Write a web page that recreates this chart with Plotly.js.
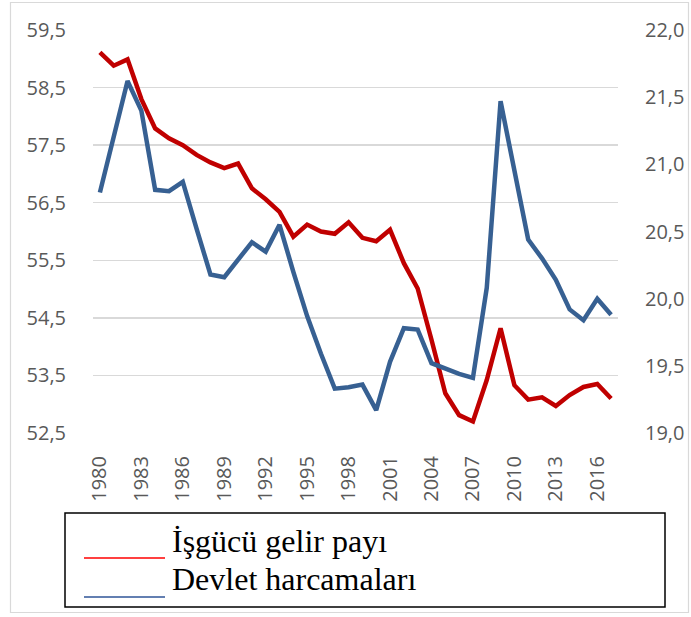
<!DOCTYPE html>
<html>
<head>
<meta charset="utf-8">
<script src="https://cdn.plot.ly/plotly-3.0.1.min.js"></script>
<style>html,body{margin:0;padding:0;background:#fff;}#chart{width:691px;height:617px;}</style>
</head>
<body>
<div id="chart"></div>
<script>
const years = [1980,1981,1982,1983,1984,1985,1986,1987,1988,1989,1990,1991,1992,1993,1994,1995,1996,1997,1998,1999,
               2000,2001,2002,2003,2004,2005,2006,2007,2008,2009,2010,2011,2012,2013,2014,2015,2016,2017];
const laborShare = [59.11,58.88,58.99,58.30,57.79,57.62,57.50,57.33,57.20,57.10,57.18,56.75,56.56,56.34,55.91,56.12,56.00,55.96,56.16,55.89,
                    55.83,56.03,55.45,55.01,54.12,53.19,52.81,52.70,53.42,54.32,53.33,53.08,53.12,52.97,53.16,53.30,53.35,53.10];
const govSpending = [20.79,21.20,21.62,21.40,20.81,20.80,20.87,20.52,20.18,20.16,20.29,20.42,20.35,20.55,20.20,19.87,19.59,19.33,19.34,19.36,
                     19.17,19.53,19.78,19.77,19.52,19.48,19.44,19.41,20.08,21.47,20.95,20.44,20.30,20.14,19.92,19.84,20.00,19.88];
const xTicks = [1980,1983,1986,1989,1992,1995,1998,2001,2004,2007,2010,2013,2016];
const leftTicks = [52.5,53.5,54.5,55.5,56.5,57.5,58.5,59.5];
const rightTicks = [19.0,19.5,20.0,20.5,21.0,21.5,22.0];
const seriesNames = ["İşgücü gelir payı", "Devlet harcamaları"];

const tickFont = {family: "Open Sans, Liberation Sans, sans-serif", size: 20, color: "#595959"};
const legendFont = {family: "Liberation Serif, Times New Roman, serif", size: 32, color: "#000000"};

const traces = [
  {x: years, y: laborShare, type: "scatter", mode: "lines", name: seriesNames[0],
   line: {color: "#C00000", width: 4.5, shape: "linear"}, yaxis: "y", hoverinfo: "skip"},
  {x: years, y: govSpending, type: "scatter", mode: "lines", name: seriesNames[1],
   line: {color: "#376092", width: 4.5, shape: "linear"}, yaxis: "y2", hoverinfo: "skip"}
];

// pixel -> paper helpers for decorations
const L = 93, R = 73, T = 30, B = 184, W = 691, H = 617;
const pw = W - L - R, ph = H - T - B;
const px = v => (v - L) / pw;
const py = v => (H - B - v) / ph;

const layout = {
  width: W, height: H,
  margin: {l: L, r: R, t: T, b: B, pad: 0},
  paper_bgcolor: "#ffffff", plot_bgcolor: "#ffffff",
  separators: ",.",
  showlegend: false,
  xaxis: {
    range: [1979.5, 2017.5], tickvals: xTicks, ticktext: xTicks.map(String),
    tickangle: -90, tickfont: tickFont, showgrid: false, zeroline: false, showline: false,
    ticks: "outside", ticklen: 14, tickcolor: "rgba(0,0,0,0)", fixedrange: true
  },
  yaxis: {
    range: [52.5, 59.5], tickvals: leftTicks, tickformat: ".1f", tickfont: tickFont,
    showgrid: true, gridcolor: "#d9d9d9", gridwidth: 1.5, zeroline: false, showline: false,
    ticks: "outside", ticklen: 22, tickcolor: "rgba(0,0,0,0)", fixedrange: true
  },
  yaxis2: {
    range: [19.0, 22.0], tickvals: rightTicks, tickformat: ".1f", tickfont: tickFont,
    overlaying: "y", side: "right", showgrid: false, zeroline: false, showline: false,
    ticks: "outside", ticklen: 22, tickcolor: "rgba(0,0,0,0)", fixedrange: true
  },
  shapes: [
    {type: "rect", xref: "paper", yref: "paper", x0: px(10.5), x1: px(688.5), y0: py(612.5), y1: py(2.5),
     line: {color: "#d9d9d9", width: 1.2}, fillcolor: "rgba(0,0,0,0)", layer: "below"},
    {type: "rect", xref: "paper", yref: "paper", x0: px(65), x1: px(665), y0: py(607), y1: py(513),
     line: {color: "#000000", width: 1.5}, fillcolor: "rgba(0,0,0,0)"},
    {type: "line", xref: "paper", yref: "paper", x0: px(84), x1: px(165), y0: py(558), y1: py(558),
     line: {color: "#FF0000", width: 1.5}},
    {type: "line", xref: "paper", yref: "paper", x0: px(84), x1: px(165), y0: py(597), y1: py(597),
     line: {color: "#2F5597", width: 1.5}}
  ],
  annotations: [
    {xref: "paper", yref: "paper", x: px(170), y: py(541), xanchor: "left", yanchor: "middle",
     text: seriesNames[0], showarrow: false, font: legendFont},
    {xref: "paper", yref: "paper", x: px(170), y: py(579), xanchor: "left", yanchor: "middle",
     text: seriesNames[1], showarrow: false, font: legendFont}
  ]
};

Plotly.newPlot("chart", traces, layout, {staticPlot: true, displayModeBar: false});
</script>
</body>
</html>
